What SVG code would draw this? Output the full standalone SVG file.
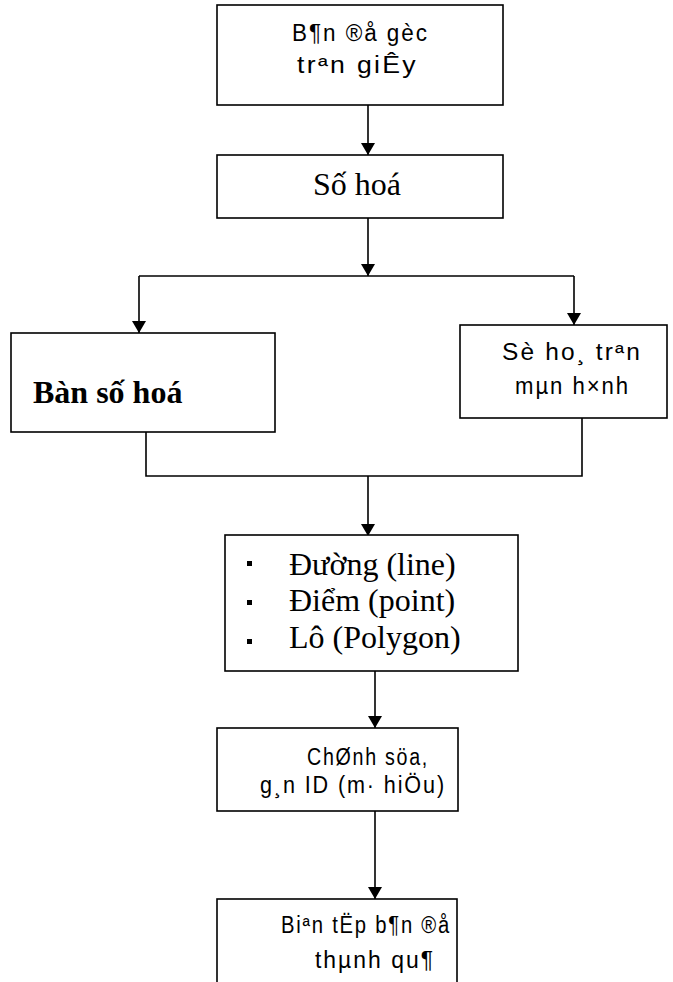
<svg xmlns="http://www.w3.org/2000/svg" width="673" height="982" viewBox="0 0 673 982">
<style>
.box{fill:#fff;stroke:#000;stroke-width:1.6}
.sans{font-family:"Liberation Sans",Arial,sans-serif;font-size:23px;letter-spacing:2px;fill:#000}
.serif{font-family:"Liberation Serif","Times New Roman",serif;font-size:32px;fill:#000}
.conn path{fill:none;stroke:#000;stroke-width:1.6}
</style>
<defs>
<marker id="arr" viewBox="0 0 12 14" refX="12" refY="7" markerWidth="12" markerHeight="14" markerUnits="userSpaceOnUse" orient="auto">
<path d="M0,0 L12,7 L0,14 z" fill="#000"/>
</marker>
</defs>
<rect width="673" height="982" fill="#fff"/>
<g class="conn" id="connectors">
<path d="M368,105 V155" marker-end="url(#arr)"/>
<path d="M368,218 V276" marker-end="url(#arr)"/>
<path d="M139,276 H574"/>
<path d="M139,276 V333" marker-end="url(#arr)"/>
<path d="M574,276 V325" marker-end="url(#arr)"/>
<path d="M146,432 V476 H582 V418"/>
<path d="M368,476 V536" marker-end="url(#arr)"/>
<path d="M375,671 V728" marker-end="url(#arr)"/>
<path d="M375,811 V899" marker-end="url(#arr)"/>
</g>
<g id="n1">
<rect class="box" x="217" y="5" width="286" height="100"/>
<text class="sans" x="292" y="41" textLength="137" lengthAdjust="spacingAndGlyphs">B¶n ®å gèc</text>
<text class="sans" x="297" y="73" textLength="121" lengthAdjust="spacingAndGlyphs">trªn giÊy</text>
</g>
<g id="n2">
<rect class="box" x="217" y="155" width="286" height="63"/>
<text class="serif" x="313" y="195" font-size="33">Số hoá</text>
</g>
<g id="n3">
<rect class="box" x="11" y="333" width="264" height="99"/>
<text class="serif" x="33" y="403" font-weight="bold">Bàn số hoá</text>
</g>
<g id="n4">
<rect class="box" x="460" y="325" width="207" height="93"/>
<text class="sans" x="502" y="360" textLength="140" lengthAdjust="spacingAndGlyphs">Sè ho¸ trªn</text>
<text class="sans" x="515" y="394" textLength="115" lengthAdjust="spacingAndGlyphs">mµn h×nh</text>
</g>
<g id="n5">
<rect class="box" x="225" y="535" width="293" height="136"/>
<rect x="247" y="561" width="5" height="5" fill="#000"/>
<rect x="247" y="600" width="5" height="5" fill="#000"/>
<rect x="247" y="639" width="5" height="5" fill="#000"/>
<text class="serif" x="289" y="575">Đường (line)</text>
<text class="serif" x="289" y="611">Điểm (point)</text>
<text class="serif" x="289" y="648">Lô (Polygon)</text>
</g>
<g id="n6">
<rect class="box" x="217" y="728" width="241" height="83"/>
<text class="sans" x="307" y="765" textLength="122" lengthAdjust="spacingAndGlyphs">ChØnh söa,</text>
<text class="sans" x="260" y="793" textLength="186" lengthAdjust="spacingAndGlyphs">g¸n ID (m·  hiÖu)</text>
</g>
<g id="n7">
<rect class="box" x="217" y="899" width="240" height="100"/>
<text class="sans" x="281" y="933" textLength="170" lengthAdjust="spacingAndGlyphs">Biªn tËp b¶n ®å</text>
<text class="sans" x="315" y="968" textLength="120" lengthAdjust="spacingAndGlyphs">thµnh qu¶</text>
</g>
</svg>
